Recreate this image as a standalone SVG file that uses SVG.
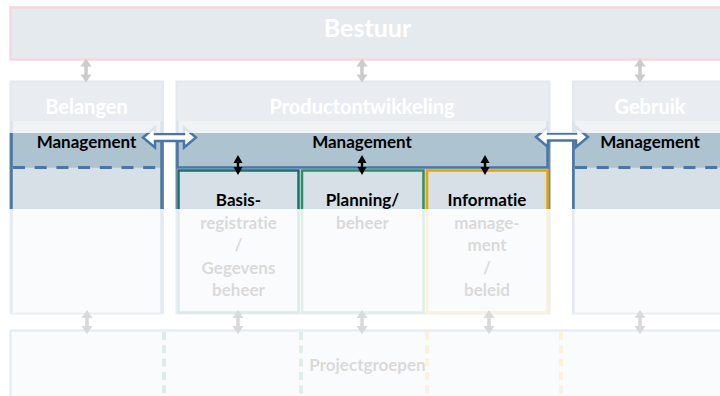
<svg xmlns="http://www.w3.org/2000/svg" width="720" height="396" viewBox="0 0 720 396">
<defs>
<style>
.t{font-family:Lato,"Open Sans","Liberation Sans",sans-serif;font-weight:bold;text-anchor:middle;font-variant-ligatures:none;font-feature-settings:"liga" 0,"clig" 0,"dlig" 0}
.title{fill:#ffffff;font-size:20px}
.lbl{fill:#000000;font-size:17px}
.col{fill:#91a5b9;stroke:#6e8caa;stroke-width:2}
.band{fill:#adc3d0}
.inner{fill:#d6e0e6}
.blue{stroke:#4a76a6;stroke-width:2.5;fill:none}
.dash{stroke:#4a76a6;stroke-width:3;stroke-dasharray:12 9.7;fill:none}
.blk{fill:#ffffff;stroke:#4a76a6;stroke-width:2.5;stroke-linejoin:miter}
.sep{stroke-width:4;stroke-dasharray:8 5.3;fill:none}
</style>
<path id="dbl" d="M0,-10 L4.5,-2 L1.2,-2 L1.2,2 L4.5,2 L0,10 L-4.5,2 L-1.2,2 L-1.2,-2 L-4.5,-2 Z" fill="#000000"/>
<path id="gdbl" d="M0,-12 L5.5,-4 L1.8,-4 L1.8,4 L5.5,4 L0,12 L-5.5,4 L-1.8,4 L-1.8,-4 L-5.5,-4 Z" fill="#000000"/>
</defs>
<rect width="720" height="396" fill="#ffffff"/>

<g id="bestuur">
<rect x="10.5" y="7.5" width="725" height="52" fill="#7d96aa" stroke="#d2325a" stroke-width="2.5"/>
<text class="t" x="367.5" y="37" font-size="25" fill="#ffffff">Bestuur</text>
</g>

<g id="belangen">
<rect class="col" x="10.5" y="81.5" width="152.5" height="232"/>
<text class="t title" x="86.5" y="114">Belangen</text>
<rect class="band" x="11" y="121" width="151" height="46.5"/>
<rect class="inner" x="11" y="167.5" width="151" height="145"/>
<path class="blue" d="M11.5,121 V313 M161.5,121 V313"/>
<path class="dash" d="M13,167.5 H160"/>
<text class="t lbl" x="86.5" y="148">Management</text>
</g>

<g id="productontwikkeling">
<rect class="col" x="176.5" y="81.5" width="373" height="232"/>
<text class="t title" x="362" y="114">Productontwikkeling</text>
<rect class="band" x="177" y="121" width="371" height="46.5"/>
<rect class="inner" x="177" y="167.5" width="371" height="145"/>
<path class="blue" d="M177.5,121 V167.5 H547.5 V121"/>
<text class="t lbl" x="362" y="148">Management</text>
</g>

<g id="basisregistratie">
<rect x="178.5" y="170.5" width="120" height="142" fill="#d6e0e6" stroke="#17706b" stroke-width="2.5"/>
<text class="t lbl" x="238.5"><tspan x="238.5" y="206">Basis-</tspan><tspan x="238.5" y="228.5">registratie</tspan><tspan x="238.5" y="251">/</tspan><tspan x="238.5" y="273.5">Gegevens</tspan><tspan x="238.5" y="296">beheer</tspan></text>
</g>

<g id="planning">
<rect x="302" y="170.5" width="121.5" height="142" fill="#d6e0e6" stroke="#2e9060" stroke-width="2.5"/>
<text class="t lbl" x="362.5"><tspan x="362.5" y="206">Planning/</tspan><tspan x="362.5" y="228.5">beheer</tspan></text>
</g>

<g id="informatie">
<rect x="427" y="170.5" width="120.5" height="142" fill="#d6e0e6" stroke="#e8a400" stroke-width="2.5"/>
<text class="t lbl" x="487"><tspan x="487" y="206">Informatie</tspan><tspan x="487" y="228.5">manage-</tspan><tspan x="487" y="251">ment</tspan><tspan x="487" y="273.5">/</tspan><tspan x="487" y="296">beleid</tspan></text>
</g>

<g id="gebruik">
<rect class="col" x="573" y="81.5" width="160" height="232"/>
<text class="t title" x="650" y="114">Gebruik</text>
<rect class="band" x="574" y="121" width="156" height="46.5"/>
<rect class="inner" x="574" y="167.5" width="156" height="145"/>
<path class="blue" d="M573.5,121 V313"/>
<path class="dash" d="M575,167.5 H730"/>
<text class="t lbl" x="650" y="148">Management</text>
</g>

<g id="projectgroepen">
<rect x="10.5" y="330.5" width="725" height="80" fill="#d6e0e6" stroke="#4a76a6" stroke-width="2"/>
<path class="sep" stroke="#1f7a6e" d="M164,332 V396"/>
<path class="sep" stroke="#2e9060" d="M301,332 V396"/>
<path class="sep" stroke="#e8a200" d="M427,332 V396"/>
<path class="sep" stroke="#e8a200" d="M561,332 V396"/>
<text class="t lbl" x="367.5" y="371">Projectgroepen</text>
</g>

<g id="connectors">
<path class="blk" d="M143,137.5 L155,127.5 L155,134 L184,134 L184,127.5 L196,137.5 L184,147.5 L184,141 L155,141 L155,147.5 Z"/>
<path class="blk" d="M536,137 L548,127 L548,133.5 L576,133.5 L576,127 L588,137 L576,147 L576,140.5 L548,140.5 L548,147 Z"/>
<use href="#dbl" x="238" y="165"/>
<use href="#dbl" x="362" y="165"/>
<use href="#dbl" x="485" y="165"/>
<use href="#gdbl" x="86" y="70.5"/>
<use href="#gdbl" x="362" y="70.5"/>
<use href="#gdbl" x="640" y="70.5"/>
<use href="#gdbl" x="87" y="322"/>
<use href="#gdbl" x="238" y="322"/>
<use href="#gdbl" x="362" y="322"/>
<use href="#gdbl" x="489" y="322"/>
<use href="#gdbl" x="640" y="322"/>
</g>

<g id="fade">
<rect x="0" y="0" width="720" height="133" fill="#ffffff" fill-opacity="0.8"/>
<rect x="0" y="209" width="720" height="187" fill="#ffffff" fill-opacity="0.85"/>
</g>
</svg>
